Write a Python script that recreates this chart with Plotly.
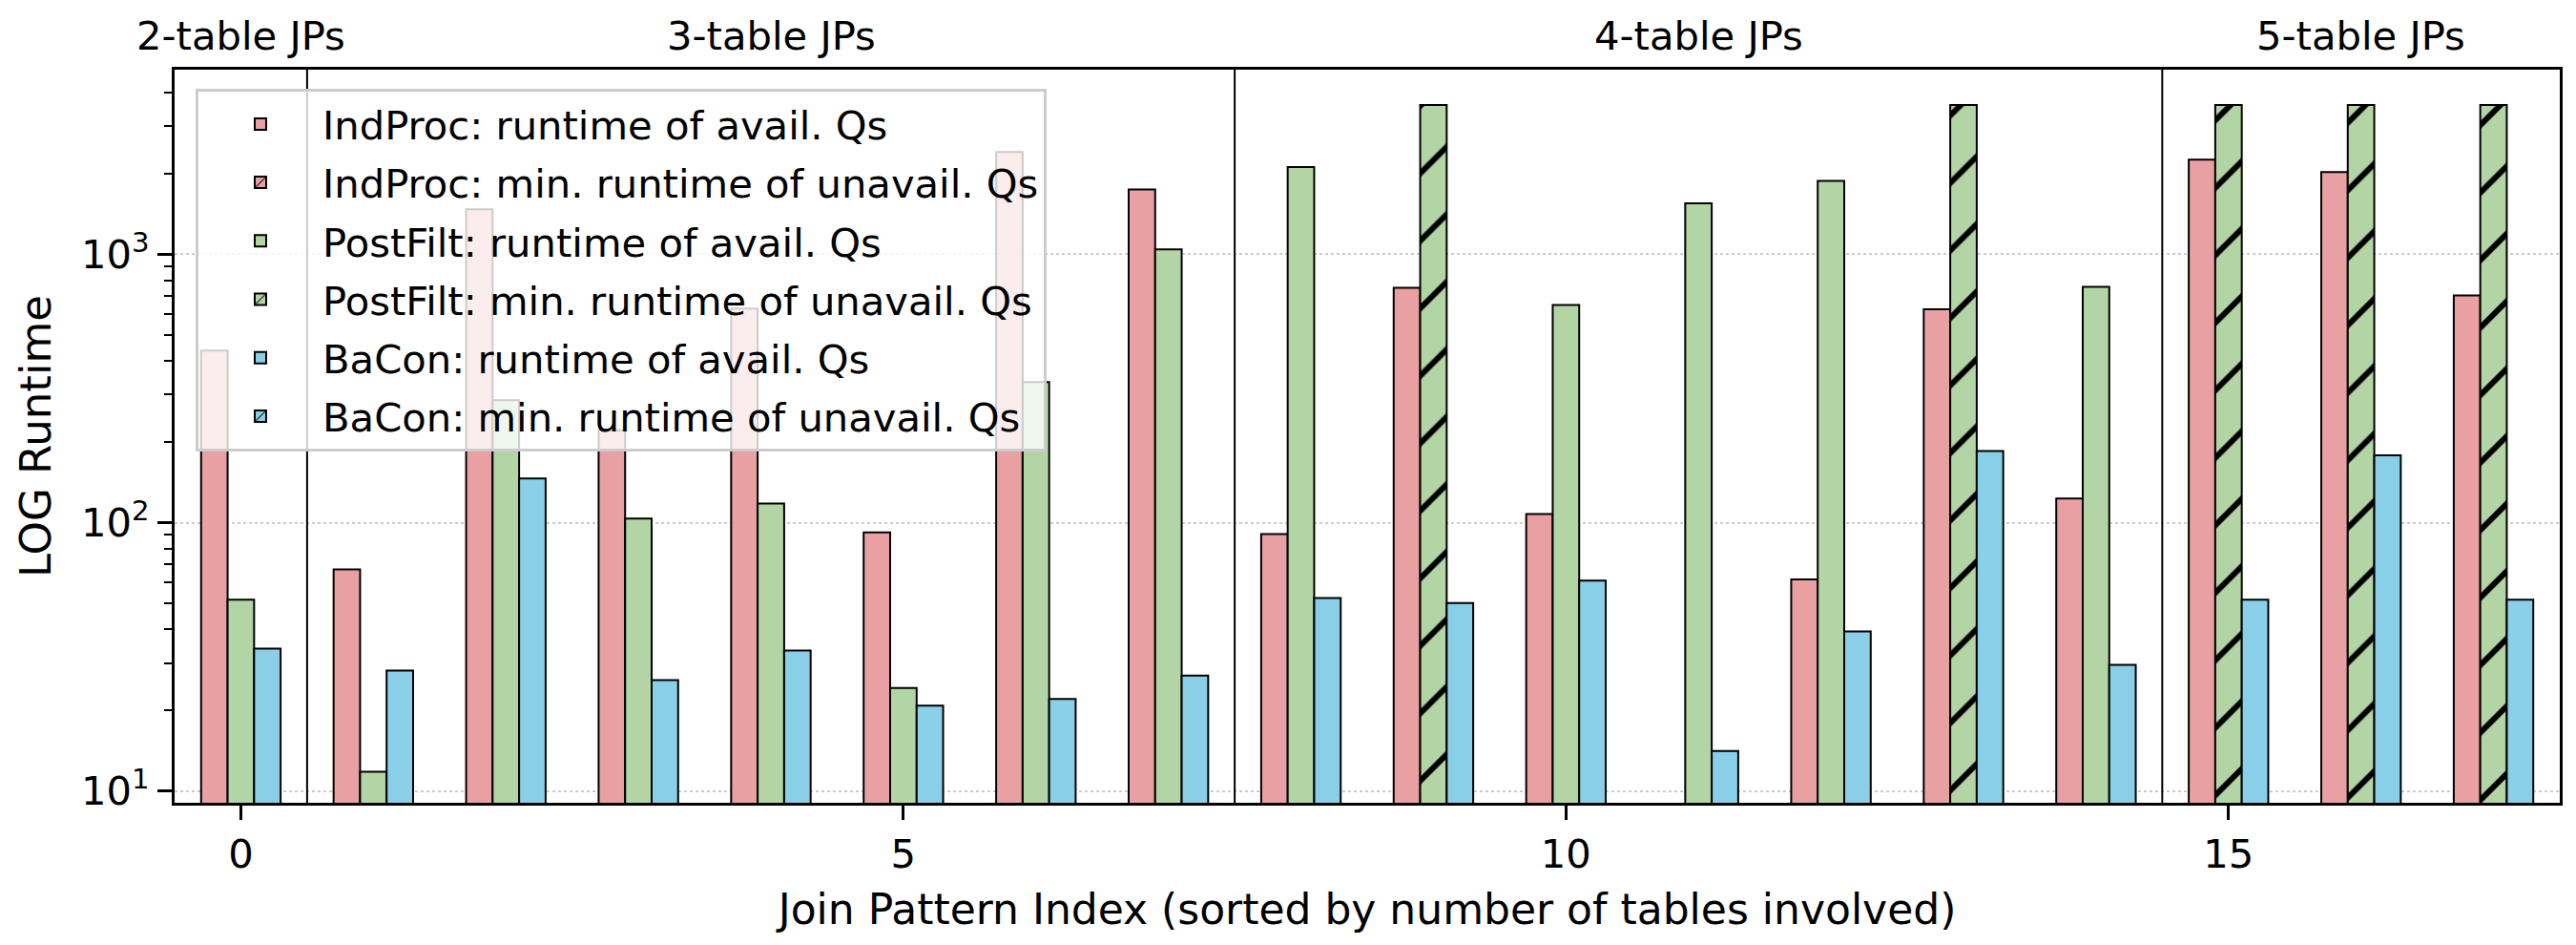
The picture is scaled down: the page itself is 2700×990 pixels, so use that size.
import plotly.graph_objects as go

# ---- data ----
join_idx = list(range(18))
indproc_avail = [438, 67, 1470, 221, 628, 92, 2404, 1745, 90.6, 750, 107.7, None, 61.4, 624, 123, 2254, 2024, 703]
indproc_unavail = [None] * 18
postfilt_avail = [51.6, 11.8, 286, 103.5, 117.8, 24.2, 334, 1044, 2113, None, 647, 1549, 1879, None, 757, None, None, None]
postfilt_unavail = [None, None, None, None, None, None, None, None, None, 3600, None, None, None, 3600, None, 3600, 3600, 3600]
bacon_avail = [33.9, 28.1, 146, 25.9, 33.4, 20.8, 22.0, 26.9, 52.4, 50.2, 60.8, 14.1, 39.3, 185, 29.5, 51.6, 178, 51.6]
bacon_unavail = [None] * 18

group_labels = ["2-table JPs", "3-table JPs", "4-table JPs", "5-table JPs"]
group_centers = [0, 4, 11, 16]
group_separators = [0.5, 7.5, 14.5]

PINK = "#E8A0A3"
GREEN = "#B3D5A5"
BLUE = "#89CFE7"
FONT = "DejaVu Sans"
FS = 41.7

fig = go.Figure()

def add(name, y, color, offset, hatched):
    pattern = dict(shape="/", fgcolor="black", fgopacity=1, bgcolor=color, size=50, solidity=0.12) if hatched else dict(shape="")
    fig.add_trace(go.Bar(
        x=join_idx, y=y, name=name, width=0.2, offset=offset, legendgroup=name,
        marker=dict(color=color, line=dict(color="black", width=2), pattern=pattern),
    ))

add("IndProc: runtime of avail. Qs", indproc_avail, PINK, -0.3, False)
add("IndProc: min. runtime of unavail. Qs", indproc_unavail, PINK, -0.3, True)
add("PostFilt: runtime of avail. Qs", postfilt_avail, GREEN, -0.1, False)
add("PostFilt: min. runtime of unavail. Qs", postfilt_unavail, GREEN, -0.1, True)
add("BaCon: runtime of avail. Qs", bacon_avail, BLUE, 0.1, False)
add("BaCon: min. runtime of unavail. Qs", bacon_unavail, BLUE, 0.1, True)

for xs in group_separators:
    fig.add_shape(type="line", x0=xs, x1=xs, y0=0, y1=1, xref="x", yref="y domain",
                  line=dict(color="black", width=2))

for lbl, cx in zip(group_labels, group_centers):
    fig.add_annotation(x=cx, y=1, xref="x", yref="paper", yanchor="bottom", yshift=9,
                       text=lbl, showarrow=False, font=dict(family=FONT, size=FS, color="black"))

minor_vals = [m * 10 ** e for e in range(0, 4) for m in range(2, 10)]

fig.update_layout(
    width=2700, height=990,
    margin=dict(l=183, r=17, t=73, b=149),
    plot_bgcolor="white", paper_bgcolor="white",
    barmode="overlay",
    font=dict(family=FONT, size=FS, color="black"),
    legend=dict(
        x=0.0088, y=0.9736, xanchor="left", yanchor="top",
        bgcolor="rgba(255,255,255,0.8)", bordercolor="#cccccc", borderwidth=3,
        font=dict(family=FONT, size=FS, color="black"),
        traceorder="grouped", tracegroupgap=4, itemwidth=120,
    ),
    xaxis=dict(
        range=[-0.5, 17.5], tickvals=[0, 5, 10, 15], ticks="outside", ticklen=15, tickwidth=3,
        tickcolor="black", showline=True, linecolor="black", linewidth=3, mirror=True,
        showgrid=False, zeroline=False,
        title=dict(text="Join Pattern Index (sorted by number of tables involved)",
                   font=dict(family=FONT, size=44, color="black"), standoff=20),
        tickfont=dict(family=FONT, size=FS, color="black"),
    ),
    yaxis=dict(
        type="log", range=[0.956, 3.688],
        tickvals=[10, 100, 1000], ticktext=["10<sup>1</sup>", "10<sup>2</sup>", "10<sup>3</sup>"],
        ticks="outside", ticklen=15, tickwidth=3, tickcolor="black",
        showline=True, linecolor="black", linewidth=3, mirror=True,
        showgrid=True, gridcolor="#cccccc", gridwidth=2, griddash="dot", zeroline=False,
        minor=dict(tickvals=minor_vals, ticks="outside", ticklen=8, tickwidth=2, tickcolor="black", showgrid=False),
        title=dict(text="LOG Runtime", font=dict(family=FONT, size=45, color="black"), standoff=18),
        tickfont=dict(family=FONT, size=FS, color="black"),
    ),
)

fig.write_html("out.html")
